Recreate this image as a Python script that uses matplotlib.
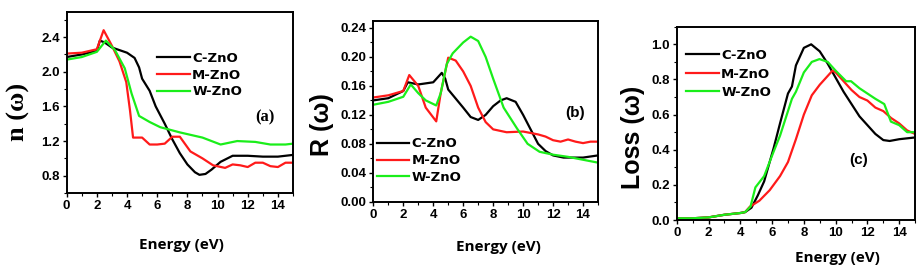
"""
Optical constants of C-, M- and W-ZnO: n(w), R(w) and energy loss
"""

import matplotlib
matplotlib.use("Agg")
import matplotlib.pyplot as plt
from matplotlib.ticker import MultipleLocator, FormatStrFormatter

LABELS = ["C-ZnO", "M-ZnO", "W-ZnO"]
COLORS = ["black", "#ff1a1a", "#1aee1a"]

# (a) refractive index n(w)
N_C_E = [0, 1, 2, 2.2, 2.5, 3, 4, 4.5, 4.8, 5.0, 5.5, 5.9, 6.5, 7.0, 7.5, 8.0, 8.5, 8.8, 9.2, 9.6, 10.2, 11.0, 12, 13, 14, 15]
N_C = [2.17, 2.2, 2.24, 2.36, 2.34, 2.28, 2.22, 2.16, 2.05, 1.92, 1.78, 1.6, 1.4, 1.22, 1.06, 0.93, 0.84, 0.81, 0.82, 0.87, 0.96, 1.03, 1.03, 1.02, 1.02, 1.04]
N_M_E = [0, 1, 2, 2.45, 3, 3.5, 3.95, 4.2, 4.4, 5.0, 5.5, 6.0, 6.5, 7.0, 7.5, 8.2, 9.0, 9.7, 10.5, 11.0, 11.5, 12.0, 12.5, 13.0, 13.5, 14.0, 14.5, 15]
N_M = [2.21, 2.22, 2.26, 2.48, 2.3, 2.12, 1.88, 1.55, 1.24, 1.24, 1.16, 1.16, 1.17, 1.25, 1.25, 1.08, 1.0, 0.92, 0.89, 0.93, 0.92, 0.9, 0.95, 0.95, 0.91, 0.9, 0.95, 0.95]
N_W_E = [0, 1, 2, 2.6, 3.2, 3.85, 4.3, 4.8, 5.5, 6.2, 7.5, 9.0, 10.2, 11.3, 12.5, 13.5, 14.5, 15]
N_W = [2.14, 2.17, 2.23, 2.36, 2.25, 2.04, 1.75, 1.49, 1.42, 1.36, 1.3, 1.24, 1.16, 1.2, 1.19, 1.16, 1.16, 1.17]

# (b) reflectivity R(w)
R_C_E = [0, 1, 2, 2.3, 3, 4, 4.57, 4.8, 5.0, 6.0, 6.5, 7.0, 7.5, 8.0, 8.5, 8.9, 9.5, 10.0, 10.5, 11.0, 11.5, 12.0, 12.7, 14, 15]
R_C = [0.14, 0.143, 0.153, 0.165, 0.162, 0.165, 0.178, 0.17, 0.155, 0.13, 0.117, 0.113, 0.12, 0.132, 0.14, 0.143, 0.138, 0.12, 0.1, 0.08, 0.07, 0.064, 0.061, 0.061, 0.064]
R_M_E = [0, 1, 2, 2.4, 3, 3.5, 4.2, 4.5, 5.0, 5.5, 6.0, 6.5, 7.0, 7.5, 8.0, 8.9, 10.0, 11.0, 11.5, 12.0, 12.5, 13.0, 13.5, 14.0, 14.5, 15]
R_M = [0.144, 0.147, 0.153, 0.175, 0.16, 0.13, 0.111, 0.15, 0.199, 0.195, 0.18, 0.16, 0.13, 0.11, 0.1, 0.096, 0.097, 0.093, 0.09, 0.085, 0.083, 0.086, 0.083, 0.081, 0.083, 0.083]
R_W_E = [0, 1, 2, 2.5, 3, 3.5, 4.2, 4.5, 4.9, 5.3, 6.0, 6.5, 7.0, 7.5, 8.0, 8.7, 9.6, 10.3, 11.1, 12.0, 13.0, 14.0, 15]
R_W = [0.134, 0.138, 0.145, 0.162, 0.15, 0.14, 0.133, 0.15, 0.19, 0.205, 0.22, 0.228, 0.222, 0.2, 0.17, 0.13, 0.101, 0.08, 0.069, 0.065, 0.062, 0.058, 0.054]

# (c) energy loss
L_C_E = [0, 1, 2, 3, 4, 4.3, 4.7, 5.1, 5.5, 6.1, 6.5, 7.0, 7.25, 7.5, 8.0, 8.46, 9.0, 9.5, 10.0, 10.5, 11.0, 11.5, 12.0, 12.5, 13.0, 13.4, 14.0, 14.5, 15]
L_C = [0.01, 0.01, 0.015, 0.03, 0.04, 0.045, 0.07, 0.14, 0.22, 0.41, 0.55, 0.72, 0.76, 0.88, 0.98, 1.0, 0.96, 0.89, 0.81, 0.73, 0.66, 0.59, 0.54, 0.49, 0.455, 0.45, 0.46, 0.465, 0.47]
L_M_E = [0, 1, 2, 3, 4, 4.3, 4.6, 5.2, 5.85, 6.5, 7.0, 7.5, 8.0, 8.5, 9.0, 9.5, 9.8, 10.0, 10.5, 11.0, 11.5, 12.0, 12.5, 13.0, 13.5, 14.0, 14.5, 15]
L_M = [0.01, 0.01, 0.015, 0.03, 0.04, 0.045, 0.076, 0.11, 0.17, 0.25, 0.33, 0.46, 0.6, 0.71, 0.77, 0.82, 0.85, 0.84, 0.79, 0.74, 0.7, 0.68, 0.64, 0.62, 0.58, 0.55, 0.51, 0.49]
L_W_E = [0, 1, 2, 3, 4, 4.3, 4.64, 4.95, 5.5, 6.1, 6.5, 7.0, 7.25, 7.5, 8.0, 8.5, 8.98, 9.5, 10.0, 10.66, 10.97, 11.5, 12.0, 12.5, 13.06, 13.48, 14.0, 14.5, 15]
L_W = [0.01, 0.01, 0.015, 0.03, 0.04, 0.045, 0.076, 0.186, 0.25, 0.39, 0.48, 0.62, 0.69, 0.73, 0.84, 0.9, 0.916, 0.9, 0.85, 0.79, 0.79, 0.75, 0.72, 0.69, 0.66, 0.56, 0.54, 0.5, 0.5]

SANS = "Liberation Sans"
SERIF = "Liberation Serif"
plt.rcParams["font.family"] = SANS
plt.rcParams["font.weight"] = "bold"


def style_axes(ax, ylim, ymajor, yminor, yfmt):
    ax.set_xlim(0, 15)
    ax.set_ylim(*ylim)
    ax.xaxis.set_major_locator(MultipleLocator(2))
    ax.xaxis.set_minor_locator(MultipleLocator(1))
    ax.yaxis.set_major_locator(MultipleLocator(ymajor))
    ax.yaxis.set_minor_locator(MultipleLocator(yminor))
    ax.yaxis.set_major_formatter(FormatStrFormatter(yfmt))
    ax.tick_params(which="major", direction="out", length=3, width=1, labelsize=9.5, pad=2)
    ax.tick_params(which="minor", direction="out", length=2, width=0.8)
    for lab in ax.get_xticklabels() + ax.get_yticklabels():
        lab.set_fontweight("bold")
    for sp in ax.spines.values():
        sp.set_linewidth(1.4)


def draw(ax, series):
    for (e, v), lab, col in zip(series, LABELS, COLORS):
        ax.plot(e, v, color=col, lw=1.6, label=lab)


fig = plt.figure(figsize=(9.22, 2.73), dpi=100)
ax_a = fig.add_axes([0.0723, 0.293, 0.2455, 0.663])
ax_b = fig.add_axes([0.4049, 0.261, 0.2437, 0.663])
ax_c = fig.add_axes([0.734, 0.194, 0.2585, 0.708])

draw(ax_a, [(N_C_E, N_C), (N_M_E, N_M), (N_W_E, N_W)])
style_axes(ax_a, (0.6, 2.69), 0.4, 0.2, "%.1f")
draw(ax_b, [(R_C_E, R_C), (R_M_E, R_M), (R_W_E, R_W)])
style_axes(ax_b, (0.0, 0.25), 0.04, 0.02, "%.2f")
draw(ax_c, [(L_C_E, L_C), (L_M_E, L_M), (L_W_E, L_W)])
style_axes(ax_c, (0.0, 1.1), 0.2, 0.1, "%.1f")

leg_kw = dict(frameon=False, handlelength=2.45, handletextpad=0.2,
              borderpad=0, borderaxespad=0,
              prop={"family": "DejaVu Sans", "weight": "bold", "size": 9.5})
ax_a.legend(loc="upper left", bbox_to_anchor=(0.40, 0.78), labelspacing=0.28, **leg_kw)
ax_b.legend(loc="upper left", bbox_to_anchor=(0.015, 0.355), labelspacing=0.28, **leg_kw)
ax_c.legend(loc="upper left", bbox_to_anchor=(0.04, 0.885), labelspacing=0.42, **leg_kw)

ax_a.text(0.876, 0.42, "(a)", transform=ax_a.transAxes, ha="center", va="center",
          family=SERIF, weight="bold", fontsize=12)
ax_b.text(0.898, 0.49, "(b)", transform=ax_b.transAxes, ha="center", va="center",
          weight="bold", fontsize=11)
ax_c.text(0.762, 0.31, "(c)", transform=ax_c.transAxes, ha="center", va="center",
          weight="bold", fontsize=11)

# axis titles placed in figure pixels
W, H = 922, 273
for x, y, s in [(181, 245, "Energy (eV)"), (498, 247, "Energy (eV)"), (837, 258, "Energy (eV)")]:
    fig.text(x / W, 1 - y / H, s, ha="center", va="center", weight="bold", fontsize=11,
             family="Open Sans")
fig.text(18 / W, 1 - 112 / H, "n (\u03c9)", rotation=90, ha="center", va="center",
         family=SERIF, weight="bold", fontsize=19)
fig.text(322 / W, 1 - 125 / H, "R (\u03c9)", rotation=90, ha="center", va="center",
         weight="bold", fontsize=18)
fig.text(633 / W, 1 - 137 / H, "Loss (\u03c9)", rotation=90, ha="center", va="center",
         weight="bold", fontsize=18)

fig.savefig("out.png", dpi=100)
